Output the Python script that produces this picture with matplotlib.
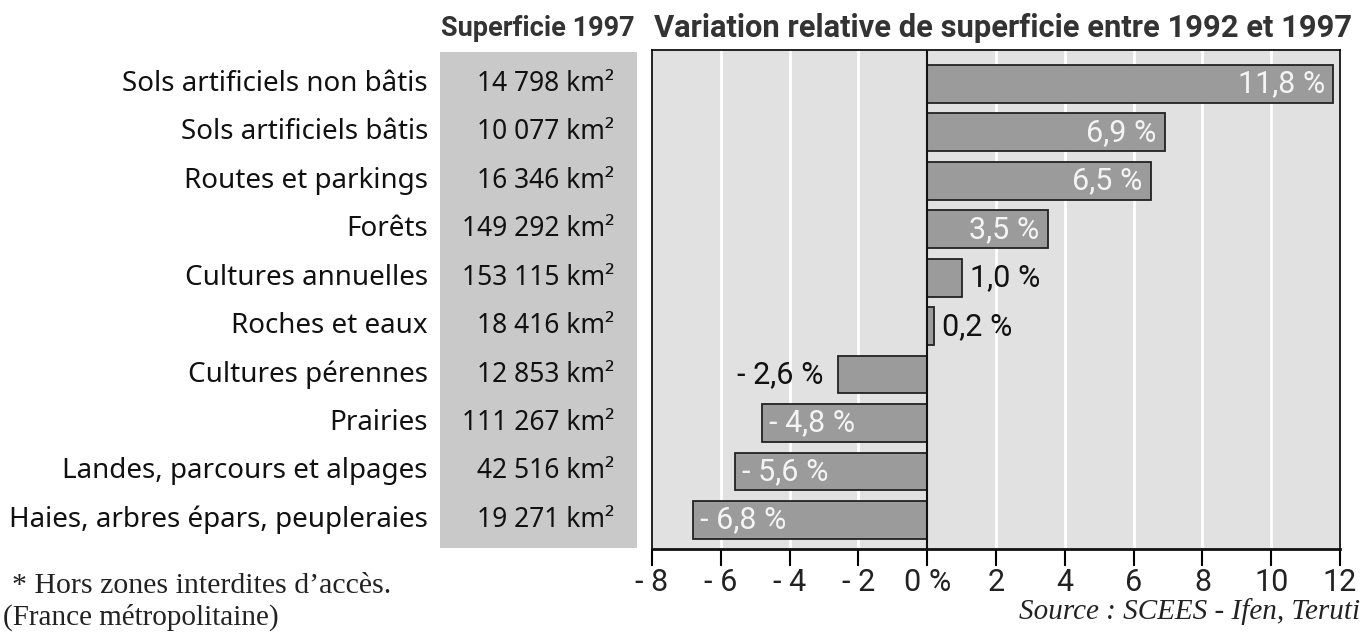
import matplotlib
matplotlib.use("Agg")
import matplotlib.pyplot as plt
import matplotlib.transforms as mtransforms
from matplotlib.patches import Rectangle

# data
categories = ["Sols artificiels non bâtis", "Sols artificiels bâtis", "Routes et parkings",
              "Forêts", "Cultures annuelles", "Roches et eaux", "Cultures pérennes",
              "Prairies", "Landes, parcours et alpages", "Haies, arbres épars, peupleraies"]
superficie = ["14 798", "10 077", "16 346", "149 292", "153 115", "18 416",
              "12 853", "111 267", "42 516", "19 271"]
variation = [11.8, 6.9, 6.5, 3.5, 1.0, 0.2, -2.6, -4.8, -5.6, -6.8]
xticks = [-8, -6, -4, -2, 0, 2, 4, 6, 8, 10, 12]
xtick_labels = ["- 8", "- 6", "- 4", "- 2", "0 %", "2", "4", "6", "8", "10", "12"]

W, H = 1372, 634
fig = plt.figure(figsize=(W / 100, H / 100), dpi=100)
fig.patch.set_facecolor("white")

sans = ["Noto Sans", "DejaVu Sans"]
cond = ["Roboto", "DejaVu Sans"]
serif = ["Liberation Serif", "DejaVu Serif"]


def fx(px):
    return px / W


def fy(py):
    return 1 - py / H


# grey box behind the superficie column
fig.patches.append(Rectangle((fx(440), fy(548)), fx(637) - fx(440), fy(52) - fy(548),
                             transform=fig.transFigure, facecolor="#c9c9c9",
                             edgecolor="none", zorder=0))

ax = fig.add_axes([fx(652), fy(549), fx(1340) - fx(652), fy(50) - fy(549)])
ax.set_facecolor("#e1e1e1")
ax.set_xlim(-8, 12)
ax.set_ylim(9.6, -0.7)

for g in [-6, -4, -2, 2, 4, 6, 8, 10]:
    ax.axvline(g, color="white", lw=2, zorder=1)
ax.axvline(0, color="#111111", lw=1.5, zorder=3)

ypos = list(range(len(categories)))
ax.barh(ypos, variation, height=0.78, color="#9b9b9b", edgecolor="#222222",
        linewidth=1.3, zorder=2)

for y, v in zip(ypos, variation):
    lab = ("- " if v < 0 else "") + f"{abs(v):.1f}".replace(".", ",") + " %"
    inside = abs(v) >= 3.5
    col = "#f4f4f4" if inside else "#111111"
    if v > 0:
        off, ha = (-6, "right") if inside else (6, "left")
    else:
        off, ha = (5, "left") if inside else (-10, "right")
    ax.annotate(lab, (v, y), xytext=(off, 0), textcoords="offset points",
                ha=ha, va="center", color=col, fontsize=22, family=cond, zorder=4)

ax.set_yticks([])
ax.set_xticks(xticks)
ax.set_xticklabels(xtick_labels, fontsize=22, family=cond, color="#222222")
ax.tick_params(axis="x", direction="out", length=12, width=1.5, pad=2)
for s in ax.spines.values():
    s.set_color("#111111")
    s.set_linewidth(1.3)
ax.spines["bottom"].set_linewidth(2)

# row labels and superficie values
trans = mtransforms.blended_transform_factory(fig.transFigure, ax.transData)
for y, c, s in zip(ypos, categories, superficie):
    fig.text(fx(428), y, c, transform=trans, ha="right", va="center",
             fontsize=20, family=sans, color="#111111")
    fig.text(fx(614), y, s + " km²", transform=trans, ha="right", va="center",
             fontsize=19, family=sans, color="#111111")

fig.text(fx(538), fy(28), "Superficie 1997", ha="center", va="center",
         fontsize=19.5, fontweight="bold", family=["Roboto", "DejaVu Sans"], color="#333333")
fig.text(fx(1003), fy(28), "Variation relative de superficie entre 1992 et 1997",
         ha="center", va="center", fontsize=22.2, fontweight="bold",
         family=["Roboto", "DejaVu Sans"], color="#333333")

fig.text(fx(12), fy(586), "* Hors zones interdites d’accès.", ha="left", va="center",
         fontsize=21.5, family=serif, color="#222222")
fig.text(fx(3), fy(617), "(France métropolitaine)", ha="left", va="center",
         fontsize=21, family=serif, color="#222222")
fig.text(fx(1360), fy(612), "Source : SCEES - Ifen, Teruti", ha="right", va="center",
         fontsize=21, family=serif, style="italic", color="#222222")

fig.savefig("out.png", dpi=100)
